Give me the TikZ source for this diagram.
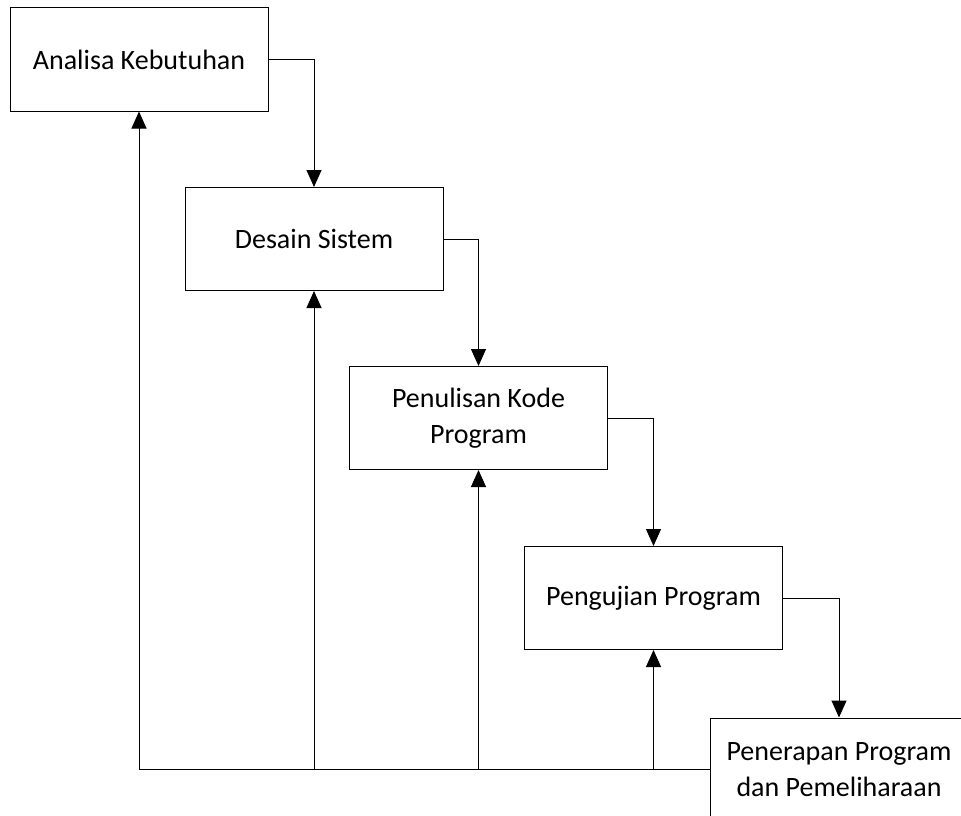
\documentclass[tikz,border=0pt]{standalone}
\usepackage{fontspec}
\setmainfont{Carlito}
\usetikzlibrary{arrows.meta}

\newcommand*\tahapwidth{258pt}
\newcommand*\tahapheight{103pt}
\tikzset{tahap/.style={
    draw,
    line width=1pt,
    rectangle,
    fill=white,
    minimum width=\tahapwidth,
    minimum height=\tahapheight,
    font=\fontsize{28}{36}\selectfont,
    align=center,
    inner sep=0pt
}}
\tikzset{alur/.style={
    draw,
    line width=1pt,
    -{Triangle[length=17pt,width=15pt]}
}}

\begin{document}
\begin{tikzpicture}[x=1pt,y=-1pt]

    \useasboundingbox (0,0) rectangle (961,816);

    % The steps of the waterfall.
    \node[tahap] (analisa) at (139,59.5) {Analisa Kebutuhan};
    \node[tahap] (desain) at (314,239) {Desain Sistem};
    \node[tahap] (kode) at (478.5,418) {Penulisan Kode\\Program};
    \node[tahap] (uji) at (653.5,598) {Pengujian Program};
    \node[tahap] (terap) at (839,769.5) {Penerapan Program\\dan Pemeliharaan};

    % Draw the way down.
    \draw[alur] (analisa.east) -| (desain.north);
    \draw[alur] (desain.east) -| (kode.north);
    \draw[alur] (kode.east) -| (uji.north);
    \draw[alur] (uji.east) -| (terap.north);

    % Draw the way back.
    \draw[alur] (terap.west) -| (analisa.south);
    \draw[alur] (desain.south |- terap.west) -- (desain.south);
    \draw[alur] (kode.south |- terap.west) -- (kode.south);
    \draw[alur] (uji.south |- terap.west) -- (uji.south);

\end{tikzpicture}
\end{document}
